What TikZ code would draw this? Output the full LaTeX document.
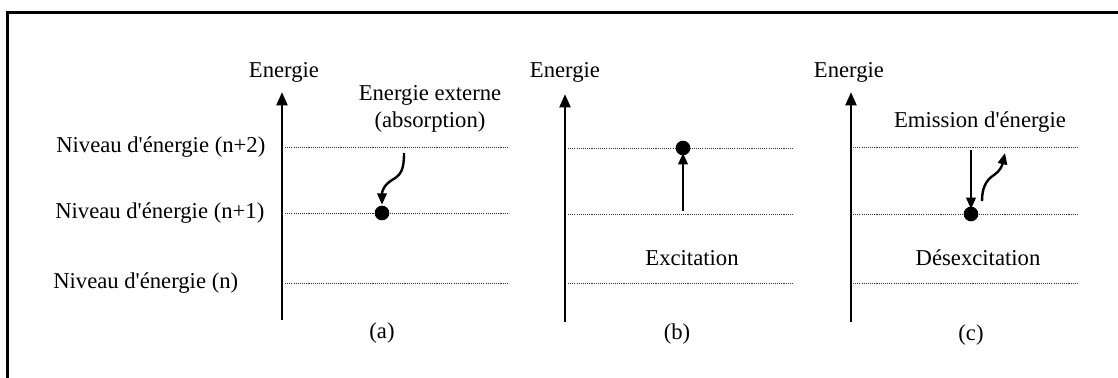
\documentclass[tikz,border=0pt]{standalone}
\usepackage{fontspec}
\setmainfont{Liberation Serif}
\usetikzlibrary{arrows.meta}
\newcommand{\ap}{\textquotesingle}
\begin{document}
\begin{tikzpicture}[x=0.75pt,y=-0.75pt,
  txt/.style={font=\fontsize{17}{20}\selectfont, inner sep=0pt},
  axis/.style={line width=2.2pt, -{Triangle[length=10pt,width=8pt]}},
  arr/.style={line width=1.8pt, -{Triangle[length=8.5pt,width=7pt]}},
  lvl/.style={dash pattern=on 0.8pt off 0.8pt, line width=0.75pt, black!80},
  dot/.style={circle, fill=black, inner sep=0pt, minimum size=11pt},
  frame/.style={line width=1.8pt}]
\useasboundingbox (0,0) rectangle (1118,378);
% frame (top and left edges visible)
\coordinate (f1) at (7.5,378);
\coordinate (f2) at (7.5,12.5);
\coordinate (f3) at (1118,12.5);
\draw[frame] (f1) -- (f2) -- (f3);

% ---------- panel (a)
\coordinate (a0) at (282,320);
\coordinate (a1) at (282,92);
\draw[axis] (a0) -- (a1);
\node[txt] (aE) at (284,72) {Energie};
\coordinate (a2s) at (285,147); \coordinate (a2e) at (509,147);
\coordinate (a1s) at (285,213); \coordinate (a1e) at (509,213);
\coordinate (a0s) at (285,283); \coordinate (a0e) at (509,283);
\draw[lvl] (a2s) -- (a2e);
\draw[lvl] (a1s) -- (a1e);
\draw[lvl] (a0s) -- (a0e);
\node[txt, anchor=west] (L2) at (56,147) {Niveau d\ap énergie (n+2)};
\node[txt, anchor=west] (L1) at (55,213) {Niveau d\ap énergie (n+1)};
\node[txt, anchor=west] (L0) at (53,283) {Niveau d\ap énergie (n)};
\node[txt, align=center] (aExt) at (430,109) {Energie externe\\(absorption)};
\node[dot] (aD) at (382,213) {};
\coordinate (aS) at (404,153);
\draw[arr] (aS) .. controls (404,170) and (401,175) .. (392,180)
  .. controls (384,185) and (382,191) .. ([yshift=0.5pt]aD.north);
\node[txt] (aL) at (382,333) {(a)};

% ---------- panel (b)
\coordinate (b0) at (565,322);
\coordinate (b1) at (565,94);
\draw[axis] (b0) -- (b1);
\node[txt] (bE) at (565,72) {Energie};
\coordinate (b2s) at (568,148); \coordinate (b2e) at (793,148);
\coordinate (b1s) at (568,214); \coordinate (b1e) at (793,214);
\coordinate (b0s) at (568,283); \coordinate (b0e) at (793,283);
\draw[lvl] (b2s) -- (b2e);
\draw[lvl] (b1s) -- (b1e);
\draw[lvl] (b0s) -- (b0e);
\node[dot] (bD) at (683,148) {};
\coordinate (bS) at (683,211);
\draw[arr] (bS) -- ([yshift=2pt]bD.south);
\node[txt] (bX) at (692,258) {Excitation};
\node[txt] (bL) at (677,334) {(b)};

% ---------- panel (c)
\coordinate (c0) at (851,322);
\coordinate (c1) at (851,92);
\draw[axis] (c0) -- (c1);
\node[txt] (cE) at (849,72) {Energie};
\coordinate (c2s) at (853,147); \coordinate (c2e) at (1078,147);
\coordinate (c1s) at (853,214); \coordinate (c1e) at (1078,214);
\coordinate (c0s) at (853,283); \coordinate (c0e) at (1078,283);
\draw[lvl] (c2s) -- (c2e);
\draw[lvl] (c1s) -- (c1e);
\draw[lvl] (c0s) -- (c0e);
\node[txt] (cEm) at (980,122) {Emission d\ap énergie};
\node[dot] (cD) at (971,214) {};
\coordinate (cS) at (971,150);
\draw[arr] (cS) -- ([yshift=-2pt]cD.north);
\coordinate (cW) at (982,201);
\coordinate (cT) at (1005,153);
\draw[arr] (cW) .. controls (982,188) and (986,180) .. (994,175)
  .. controls (1000,171) and (1002,166) .. (cT);
\node[txt] (cX) at (978,258) {Désexcitation};
\node[txt] (cL) at (971,335) {(c)};
\end{tikzpicture}
\end{document}
